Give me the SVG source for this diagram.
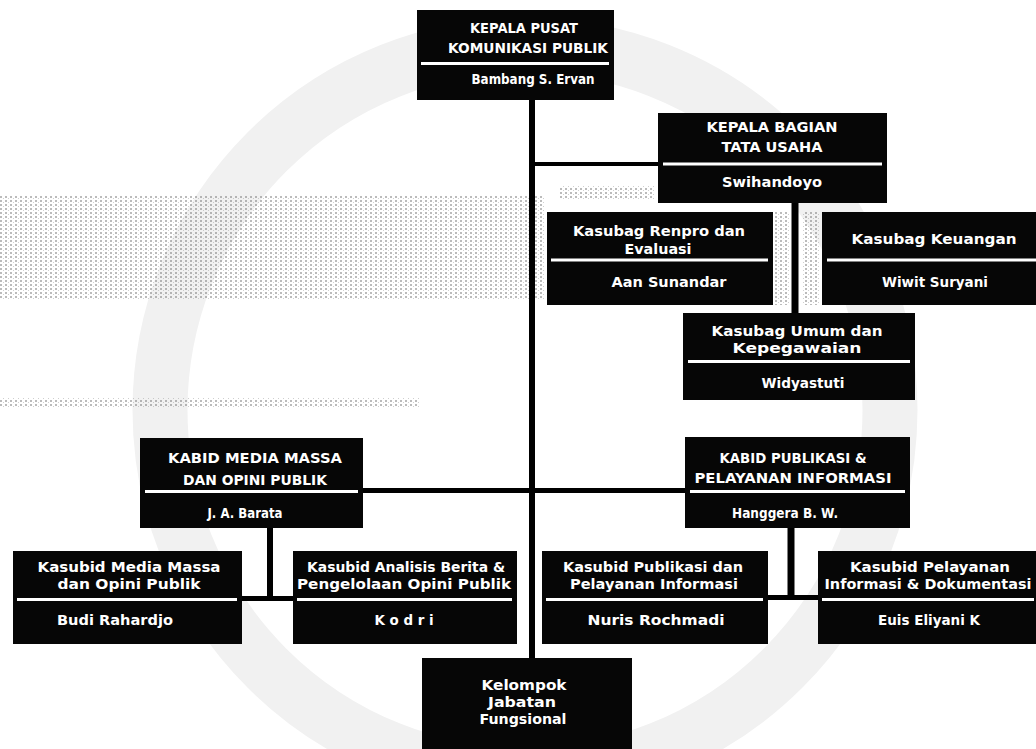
<svg xmlns="http://www.w3.org/2000/svg" width="1036" height="749" viewBox="0 0 1036 749">
<defs>
<pattern id="dots" width="5" height="4" patternUnits="userSpaceOnUse">
<rect x="0" y="0" width="2" height="2" fill="#555"/>
<rect x="3" y="2" width="1" height="1" fill="#888"/>
</pattern>
</defs>
<style>
.box{fill:#060606}
.sep{stroke:#fff;stroke-width:3}
.t{fill:#fff;font-family:"DejaVu Sans","Liberation Sans",sans-serif;font-size:14.5px;font-weight:bold;text-anchor:middle}
.c{stroke:#000;fill:none}
.wm{fill:none;stroke:#f1f1f1}
.noise{fill:url(#dots);opacity:0.4}
</style>
<rect width="1036" height="749" fill="#fff"/>
<g id="watermark">
<circle class="wm" cx="525" cy="410" r="365" stroke-width="55"/>
</g>
<g id="noise">
<rect class="noise" x="0" y="196" width="545" height="104"/>
<rect class="noise" x="0" y="398" width="420" height="10"/>
<rect class="noise" x="775" y="212" width="15" height="93"/>
<rect class="noise" x="802" y="212" width="18" height="93"/>
<rect class="noise" x="560" y="186" width="95" height="14"/>
</g>
<g id="connectors">
<line class="c" x1="532" y1="100" x2="532" y2="658" stroke-width="6"/>
<line class="c" x1="532" y1="164" x2="658" y2="164" stroke-width="4"/>
<line class="c" x1="795" y1="203" x2="795" y2="313" stroke-width="7"/>
<line class="c" x1="363" y1="490.5" x2="685" y2="490.5" stroke-width="5"/>
<line class="c" x1="270" y1="528" x2="270" y2="601" stroke-width="6"/>
<line class="c" x1="242" y1="598.5" x2="293" y2="598.5" stroke-width="5"/>
<line class="c" x1="791" y1="528" x2="791" y2="600" stroke-width="7"/>
<line class="c" x1="768" y1="597.5" x2="818" y2="597.5" stroke-width="5"/>
</g>
<g id="kepala-pusat">
<rect class="box" x="417" y="10" width="197" height="90"/>
<line class="sep" x1="421" y1="63.5" x2="609" y2="63.5"/>
<text class="t" x="524" y="33" textLength="108" lengthAdjust="spacingAndGlyphs">KEPALA PUSAT</text>
<text class="t" x="528" y="53" textLength="160" lengthAdjust="spacingAndGlyphs">KOMUNIKASI PUBLIK</text>
<text class="t" x="533" y="84" textLength="123" lengthAdjust="spacingAndGlyphs">Bambang S. Ervan</text>
</g>
<g id="kepala-bagian">
<rect class="box" x="658" y="113" width="229" height="90"/>
<line class="sep" x1="663" y1="164" x2="882" y2="164"/>
<text class="t" x="772" y="132" textLength="131" lengthAdjust="spacingAndGlyphs">KEPALA BAGIAN</text>
<text class="t" x="772" y="152" textLength="101" lengthAdjust="spacingAndGlyphs">TATA USAHA</text>
<text class="t" x="772" y="187" textLength="100" lengthAdjust="spacingAndGlyphs">Swihandoyo</text>
</g>
<g id="kasubag-renpro">
<rect class="box" x="547" y="212" width="226" height="93"/>
<line class="sep" x1="551" y1="260" x2="768" y2="260"/>
<text class="t" x="659" y="236" textLength="172" lengthAdjust="spacingAndGlyphs">Kasubag Renpro dan</text>
<text class="t" x="658" y="254" textLength="67" lengthAdjust="spacingAndGlyphs">Evaluasi</text>
<text class="t" x="669" y="287" textLength="115" lengthAdjust="spacingAndGlyphs">Aan Sunandar</text>
</g>
<g id="kasubag-keuangan">
<rect class="box" x="822" y="212" width="214" height="93"/>
<line class="sep" x1="827" y1="260" x2="1036" y2="260"/>
<text class="t" x="934" y="244" textLength="165" lengthAdjust="spacingAndGlyphs">Kasubag Keuangan</text>
<text class="t" x="935" y="287" textLength="106" lengthAdjust="spacingAndGlyphs">Wiwit Suryani</text>
</g>
<g id="kasubag-umum">
<rect class="box" x="683" y="313" width="232" height="87"/>
<line class="sep" x1="688" y1="361.5" x2="910" y2="361.5"/>
<text class="t" x="797" y="336" textLength="171" lengthAdjust="spacingAndGlyphs">Kasubag Umum dan</text>
<text class="t" x="797" y="353" textLength="129" lengthAdjust="spacingAndGlyphs">Kepegawaian</text>
<text class="t" x="803" y="388" textLength="83" lengthAdjust="spacingAndGlyphs">Widyastuti</text>
</g>
<g id="kabid-media">
<rect class="box" x="140" y="438" width="223" height="90"/>
<line class="sep" x1="145" y1="491.5" x2="358" y2="491.5"/>
<text class="t" x="255" y="463" textLength="174" lengthAdjust="spacingAndGlyphs">KABID MEDIA MASSA</text>
<text class="t" x="255" y="485" textLength="144" lengthAdjust="spacingAndGlyphs">DAN OPINI PUBLIK</text>
<text class="t" x="245" y="518" textLength="75" lengthAdjust="spacingAndGlyphs">J. A. Barata</text>
</g>
<g id="kabid-publikasi">
<rect class="box" x="685" y="437" width="225" height="91"/>
<line class="sep" x1="690" y1="491.5" x2="905" y2="491.5"/>
<text class="t" x="793" y="463" textLength="147" lengthAdjust="spacingAndGlyphs">KABID PUBLIKASI &amp;</text>
<text class="t" x="793" y="483" textLength="197" lengthAdjust="spacingAndGlyphs">PELAYANAN INFORMASI</text>
<text class="t" x="785" y="518" textLength="106" lengthAdjust="spacingAndGlyphs">Hanggera B. W.</text>
</g>
<g id="kasubid-media">
<rect class="box" x="13" y="551" width="229" height="93"/>
<line class="sep" x1="17" y1="599.5" x2="237" y2="599.5"/>
<text class="t" x="129" y="572" textLength="183" lengthAdjust="spacingAndGlyphs">Kasubid Media Massa</text>
<text class="t" x="129" y="589" textLength="143" lengthAdjust="spacingAndGlyphs">dan Opini Publik</text>
<text class="t" x="115" y="625" textLength="116" lengthAdjust="spacingAndGlyphs">Budi Rahardjo</text>
</g>
<g id="kasubid-analisis">
<rect class="box" x="293" y="551" width="224" height="93"/>
<line class="sep" x1="297" y1="599.5" x2="512" y2="599.5"/>
<text class="t" x="406" y="572" textLength="198" lengthAdjust="spacingAndGlyphs">Kasubid Analisis Berita &amp;</text>
<text class="t" x="404" y="589" textLength="214" lengthAdjust="spacingAndGlyphs">Pengelolaan Opini Publik</text>
<text class="t" x="404" y="625" textLength="59" lengthAdjust="spacingAndGlyphs">K o d r i</text>
</g>
<g id="kasubid-publikasi">
<rect class="box" x="542" y="551" width="226" height="93"/>
<line class="sep" x1="546" y1="599.5" x2="763" y2="599.5"/>
<text class="t" x="653" y="572" textLength="180" lengthAdjust="spacingAndGlyphs">Kasubid Publikasi dan</text>
<text class="t" x="654" y="589" textLength="168" lengthAdjust="spacingAndGlyphs">Pelayanan Informasi</text>
<text class="t" x="656" y="625" textLength="137" lengthAdjust="spacingAndGlyphs">Nuris Rochmadi</text>
</g>
<g id="kasubid-pelayanan">
<rect class="box" x="818" y="551" width="218" height="93"/>
<line class="sep" x1="822" y1="599.5" x2="1034" y2="599.5"/>
<text class="t" x="930" y="572" textLength="160" lengthAdjust="spacingAndGlyphs">Kasubid Pelayanan</text>
<text class="t" x="928" y="589" textLength="207" lengthAdjust="spacingAndGlyphs">Informasi &amp; Dokumentasi</text>
<text class="t" x="929" y="625" textLength="102" lengthAdjust="spacingAndGlyphs">Euis Eliyani K</text>
</g>
<g id="kelompok-jabatan">
<rect class="box" x="422" y="658" width="210" height="91"/>
<text class="t" x="524" y="690" textLength="85" lengthAdjust="spacingAndGlyphs">Kelompok</text>
<text class="t" x="522" y="707" textLength="68" lengthAdjust="spacingAndGlyphs">Jabatan</text>
<text class="t" x="523" y="724" textLength="87" lengthAdjust="spacingAndGlyphs">Fungsional</text>
</g>
</svg>
